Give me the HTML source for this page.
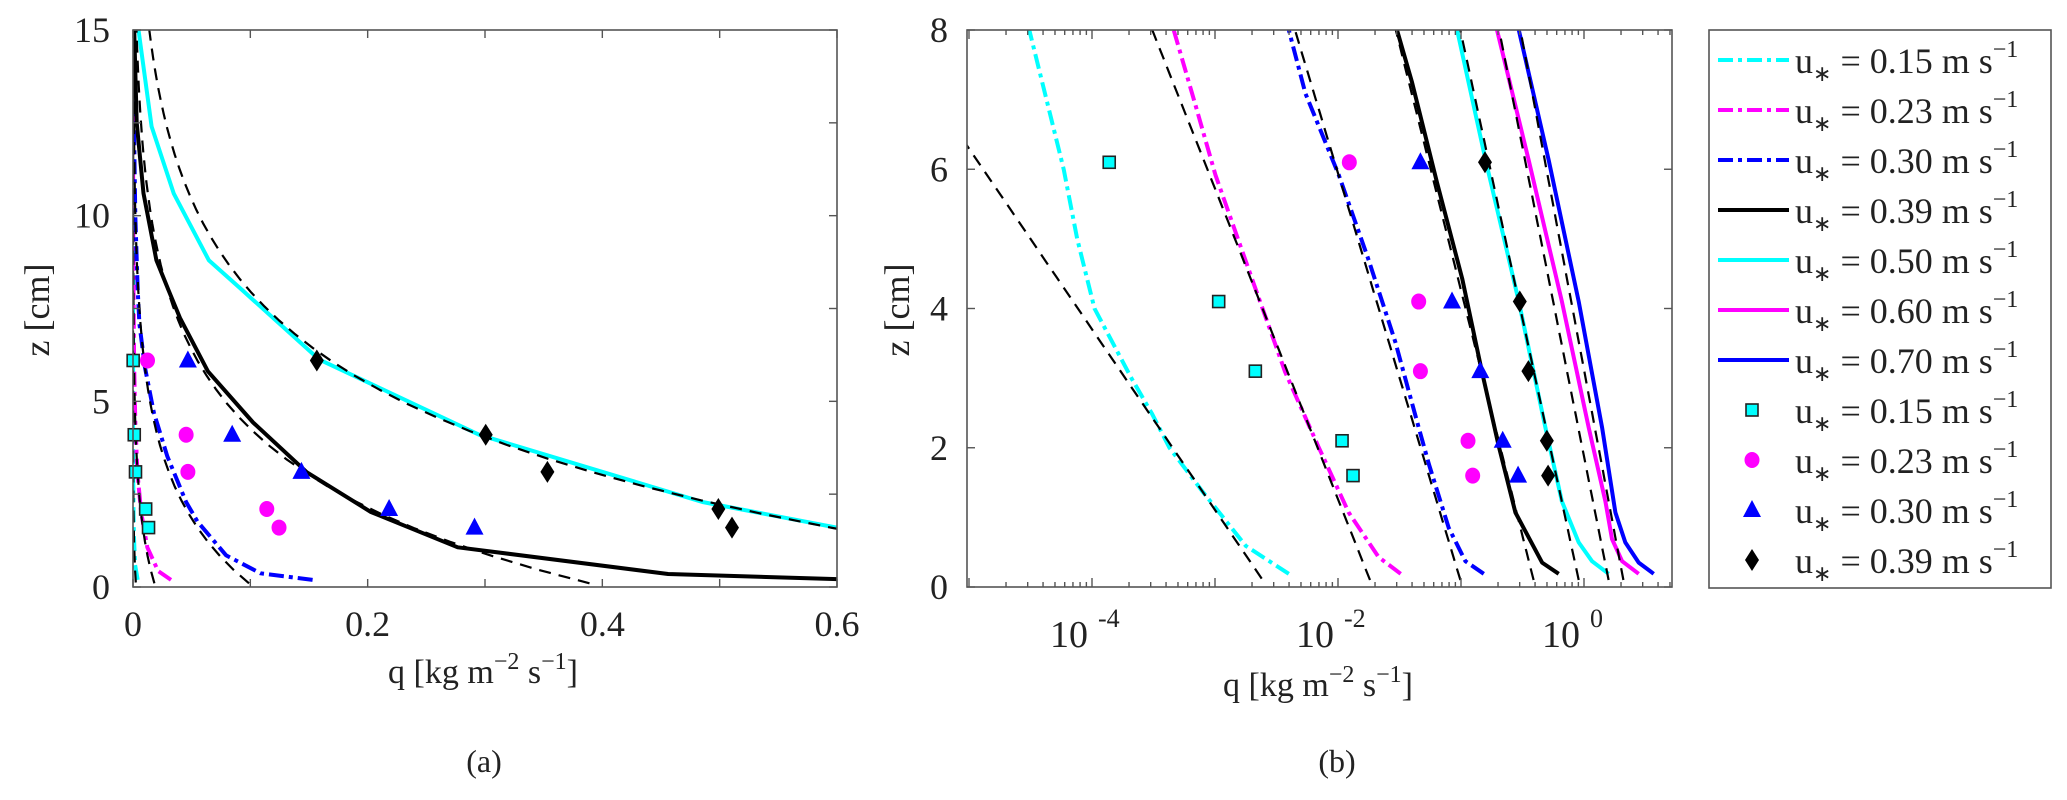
<!DOCTYPE html>
<html><head><meta charset="utf-8"><style>
html,body{margin:0;padding:0;background:#fff;}
svg{display:block;font-family:"Liberation Serif",serif;}
</style></head><body>
<svg id="fig" width="2067" height="800" viewBox="0 0 2067 800" xmlns="http://www.w3.org/2000/svg">
<defs>
<clipPath id="clipA"><rect x="133" y="30" width="704" height="557"/></clipPath>
<clipPath id="clipB"><rect x="967" y="30" width="705" height="557"/></clipPath>
</defs>
<g id="panelA"></g>
<g id="panelB"></g>
<g id="legend"></g>
</svg>
<script>
// ---- data (z in cm, lq = log10 q) ----
const z015 = [0.19,0.59,1.39,2.0,2.48,3,4,5,6,7,8,10,12,15];
const lq015 = [-2.40,-2.75,-3.11,-3.37,-3.51,-3.68,-3.98,-4.12,-4.23,-4.37,-4.51,-4.8,-5.1,-5.5];
const z023 = [0.19,0.43,1.07,2.02,3.09,4.43,5.92,6.93,8,10,12,15];
const lq023 = [-1.49,-1.67,-1.913,-2.16,-2.43,-2.70,-2.997,-3.16,-3.336,-3.7,-4.0,-4.5];
const z030 = [0.19,0.37,0.85,1.76,2.29,3.52,4.69,5.92,7.09,8,10,12,15];
const lq030 = [-0.815,-0.964,-1.10,-1.26,-1.344,-1.534,-1.75,-1.994,-2.265,-2.40,-2.7,-3.0,-3.4];
const z039 = [0.19,0.35,1.07,2.02,3.09,4.43,5.81,7.25,8,8.8,10.6,12.5,15];
const lq039 = [-0.206,-0.341,-0.558,-0.693,-0.829,-0.99,-1.195,-1.398,-1.52,-1.70,-2.05,-2.5,-3.0];
const z050 = [0.19,0.37,0.64,1.23,2.29,4.1,6.13,8,8.8,10.6,12.4,15];
const lq050 = [0.20,0.065,-0.043,-0.18,-0.314,-0.53,-0.80,-1.032,-1.19,-1.46,-1.80,-2.33];
const z060 = [0.19,0.37,0.69,1.23,2.29,4.1,6.13,8];
const lq060 = [0.445,0.31,0.228,0.174,0.038,-0.18,-0.45,-0.707];
const z070 = [0.19,0.35,0.64,1.07,2.29,4.1,6.13,8];
const lq070 = [0.567,0.445,0.336,0.255,0.147,-0.043,-0.287,-0.53];
// exponential fits: [zTop, lqTop, zBottom, lqBottom]
const fit015 = [6.09,-4.92,0.12,-2.62];
const fit023 = [8,-3.51,0.1,-1.74];
const fit030 = [8,-2.35,0.1,-1.005];
const fit039 = [8,-1.53,0.1,-0.41];
const fit050 = [8,-1.005,0.1,-0.043];
const fit060 = [8,-0.69,0.1,0.20];
const fit070 = [8,-0.517,0.1,0.32];
// measurements
const markerZ = [6.1,4.1,3.1,2.1,1.6];
const m015 = [-3.86,-2.97,-2.672,-1.967,-1.878];
const m023 = [-1.908,-1.344,-1.33,-0.943,-0.905];
const m030 = [-1.33,-1.073,-0.843,-0.661,-0.536];
const m039 = [-0.805,-0.522,-0.452,-0.302,-0.292];
const xTicksA = [0,0.2,0.4,0.6];
const xMinorA = [0.1,0.3,0.5];
const yTicksA = [0,5,10,15];
const yTicksB = [0,2,4,6,8];
const xDecadesB = [-4,-2,0];
const legendLabels = ["0.15","0.23","0.30","0.39","0.50","0.60","0.70","0.15","0.23","0.30","0.39"];

const NS = "http://www.w3.org/2000/svg";
function mk(tag, attrs, parent){const e=document.createElementNS(NS,tag);for(const k in attrs)e.setAttribute(k,attrs[k]);parent.appendChild(e);return e;}

const A = {x0:133,x1:837,y0:587,y1:30};
const xA = q => A.x0 + q/0.6*(A.x1-A.x0);
const yA = z => A.y0 - z/15*(A.y0-A.y1);
const B = {x0:967,x1:1672,y0:587,y1:30};
const xB = lq => 1092 + (lq+4)*123;
const yB = z => B.y0 - z/8*(B.y0-B.y1);

const CY="#00ffff", MG="#ff00ff", BL="#0000ff", BK="#000";
const DD="15 5 4 5", DASH="12 8";

function drawAxesBox(g, ax, name){
  const r = mk('rect',{x:ax.x0,y:ax.y1,width:ax.x1-ax.x0,height:ax.y0-ax.y1,fill:'none',stroke:'#555','stroke-width':1.6},g);
  
  
}
function tick(g,x1,y1,x2,y2,name){
  const l=mk('line',{x1:x1,y1:y1,x2:x2,y2:y2,stroke:'#555','stroke-width':1.4},g);
  
  
}
function text(g,x,y,s,size,anchor,name){
  const t=mk('text',{x:x,y:y,'font-size':size,'text-anchor':anchor||'middle',fill:'#222'},g);
  t.textContent=s;
  
  
  return t;
}
function seriesPath(g, zs, lqs, fx, fy, color, dash, width, name, clip){
  let d='';
  zs.forEach((z,i)=>{d+=(i?'L':'M')+fx(lqs[i]).toFixed(1)+','+fy(z).toFixed(1);});
  const p=mk('path',{d:d,fill:'none',stroke:color,'stroke-width':width,'stroke-linejoin':'round','clip-path':clip},g);
  if(dash)p.setAttribute('stroke-dasharray',dash);
  
  
}
function fitPath(g, f, zmax, fx, fy, name, clip){
  const slope=(f[3]-f[1])/(f[2]-f[0]);
  const lqTop=f[1]+slope*(zmax-f[0]);
  const zs=[],lqs=[];
  const n=40;
  for(let i=0;i<=n;i++){const z=f[2]+(zmax-f[2])*i/n;zs.push(z);lqs.push(f[3]+(lqTop-f[3])*i/n);}
  seriesPath(g,zs,lqs,fx,fy,BK,DASH,2.2,name,clip);
}
function marker(g,type,x,y,name){
  let e;
  if(type==='sq') e=mk('rect',{x:x-6,y:y-6,width:12,height:12,fill:CY,stroke:'#222','stroke-width':1.6},g);
  else if(type==='ci') e=mk('ellipse',{cx:x,cy:y,rx:7.5,ry:8,fill:MG},g);
  else if(type==='tr') e=mk('path',{d:`M${x},${y-10}L${x+9},${y+7}L${x-9},${y+7}Z`,fill:BL},g);
  else e=mk('path',{d:`M${x},${y-11}L${x+7},${y}L${x},${y+11}L${x-7},${y}Z`,fill:BK},g);
  
  
}

// ---- panel A ----
const gA=document.getElementById('panelA');
const fxA = lq => xA(Math.pow(10,lq));
seriesPath(gA,z015,lq015,fxA,yA,CY,DD,4,'line-a-015','url(#clipA)');
seriesPath(gA,z023,lq023,fxA,yA,MG,DD,4,'line-a-023','url(#clipA)');
seriesPath(gA,z030,lq030,fxA,yA,BL,DD,4,'line-a-030','url(#clipA)');
seriesPath(gA,z039,lq039,fxA,yA,BK,null,4,'line-a-039','url(#clipA)');
seriesPath(gA,z050,lq050,fxA,yA,CY,null,4,'line-a-050','url(#clipA)');
[fit015,fit023,fit030,fit039,fit050].forEach((f,i)=>fitPath(gA,f,15,fxA,yA,'fit-a-'+i,'url(#clipA)'));
markerZ.forEach((z,i)=>{
  marker(gA,'sq',fxA(m015[i]),yA(z),'marker-a-015');
  marker(gA,'ci',fxA(m023[i]),yA(z),'marker-a-023');
  marker(gA,'tr',fxA(m030[i]),yA(z),'marker-a-030');
  marker(gA,'di',fxA(m039[i]),yA(z),'marker-a-039');
});
drawAxesBox(gA,A,'panel-a');
xTicksA.concat(xMinorA).forEach(v=>{const x=xA(v);tick(gA,x,A.y0,x,A.y0-8,'x-tick-a');tick(gA,x,A.y1,x,A.y1+8,'x-tick-a-top');});
xTicksA.forEach(v=>text(gA,xA(v),636,String(v),36,'middle','x-tick-label-a'));
[0,2.5,5,7.5,10,12.5,15].forEach(v=>{const y=yA(v);tick(gA,A.x0,y,A.x0+8,y,'y-tick-a');tick(gA,A.x1,y,A.x1-8,y,'y-tick-a-right');});
yTicksA.forEach(v=>text(gA,110,yA(v)+12,String(v),36,'end','y-tick-label-a'));
let t=text(gA,483,683,'',34,'middle','x-axis-title-a');
t.innerHTML='q [kg m<tspan dy="-14" font-size="24">−2</tspan><tspan dy="14"> s</tspan><tspan dy="-14" font-size="24">−1</tspan><tspan dy="14">]</tspan>';
t=text(gA,0,0,'z [cm]',36,'middle','y-axis-title-a');
t.setAttribute('transform','translate(49,310) rotate(-90)');
text(gA,484,772,'(a)',32,'middle','caption-a');

// ---- panel B ----
const gB=document.getElementById('panelB');
seriesPath(gB,z015,lq015,xB,yB,CY,DD,4,'line-b-015','url(#clipB)');
seriesPath(gB,z023,lq023,xB,yB,MG,DD,4,'line-b-023','url(#clipB)');
seriesPath(gB,z030,lq030,xB,yB,BL,DD,4,'line-b-030','url(#clipB)');
seriesPath(gB,z039,lq039,xB,yB,BK,null,4,'line-b-039','url(#clipB)');
seriesPath(gB,z050,lq050,xB,yB,CY,null,4,'line-b-050','url(#clipB)');
seriesPath(gB,z060,lq060,xB,yB,MG,null,4,'line-b-060','url(#clipB)');
seriesPath(gB,z070,lq070,xB,yB,BL,null,4,'line-b-070','url(#clipB)');
[fit015,fit023,fit030,fit039,fit050,fit060,fit070].forEach((f,i)=>fitPath(gB,f,8,xB,yB,'fit-b-'+i,'url(#clipB)'));
markerZ.forEach((z,i)=>{
  marker(gB,'sq',xB(m015[i]),yB(z),'marker-b-015');
  marker(gB,'ci',xB(m023[i]),yB(z),'marker-b-023');
  marker(gB,'tr',xB(m030[i]),yB(z),'marker-b-030');
  marker(gB,'di',xB(m039[i]),yB(z),'marker-b-039');
});
drawAxesBox(gB,B,'panel-b');
for(let d=-5;d<=0;d++){
  for(let m=1;m<=9;m++){
    const x=xB(d+Math.log10(m));
    if(x<B.x0||x>B.x1)continue;
    const len=(m===1)?9:5;
    tick(gB,x,B.y0,x,B.y0-len,'x-tick-b');tick(gB,x,B.y1,x,B.y1+len,'x-tick-b-top');
  }
}
xDecadesB.forEach(d=>{
  const x=xB(d);
  text(gB,x-4,647,'10',38,'end','x-tick-label-b');
  text(gB,x+6,627,String(d),26,'start','x-tick-exp-b');
});
yTicksB.forEach(v=>{const y=yB(v);tick(gB,B.x0,y,B.x0+8,y,'y-tick-b');tick(gB,B.x1,y,B.x1-8,y,'y-tick-b-right');
  text(gB,948,y+12,String(v),36,'end','y-tick-label-b');});
t=text(gB,1318,696,'',34,'middle','x-axis-title-b');
t.innerHTML='q [kg m<tspan dy="-14" font-size="24">−2</tspan><tspan dy="14"> s</tspan><tspan dy="-14" font-size="24">−1</tspan><tspan dy="14">]</tspan>';
t=text(gB,0,0,'z [cm]',36,'middle','y-axis-title-b');
t.setAttribute('transform','translate(909,310) rotate(-90)');
text(gB,1337,772,'(b)',32,'middle','caption-b');

// ---- legend ----
const gL=document.getElementById('legend');
const lb=mk('rect',{x:1709,y:30,width:342,height:558,fill:'#fff',stroke:'#555','stroke-width':1.6},gL);


const styles=[[CY,DD],[MG,DD],[BL,DD],[BK,null],[CY,null],[MG,null],[BL,null]];
const mtypes=['sq','ci','tr','di'];
legendLabels.forEach((lab,i)=>{
  const y=60+50*i;
  if(i<7){
    const l=mk('line',{x1:1718,y1:y,x2:1789,y2:y,stroke:styles[i][0],'stroke-width':4},gL);
    if(styles[i][1])l.setAttribute('stroke-dasharray',styles[i][1]);
    
    
  } else {
    marker(gL,mtypes[i-7],1752,y,'legend-marker');
  }
  const tx=text(gL,1795,y+13,'',36,'start','legend-entry');
  tx.innerHTML='u<tspan dy="8" font-size="22">∗</tspan><tspan dy="-8"> = '+lab+' m s</tspan><tspan dy="-16" font-size="24">−1</tspan>';
});
</script>
</body></html>
